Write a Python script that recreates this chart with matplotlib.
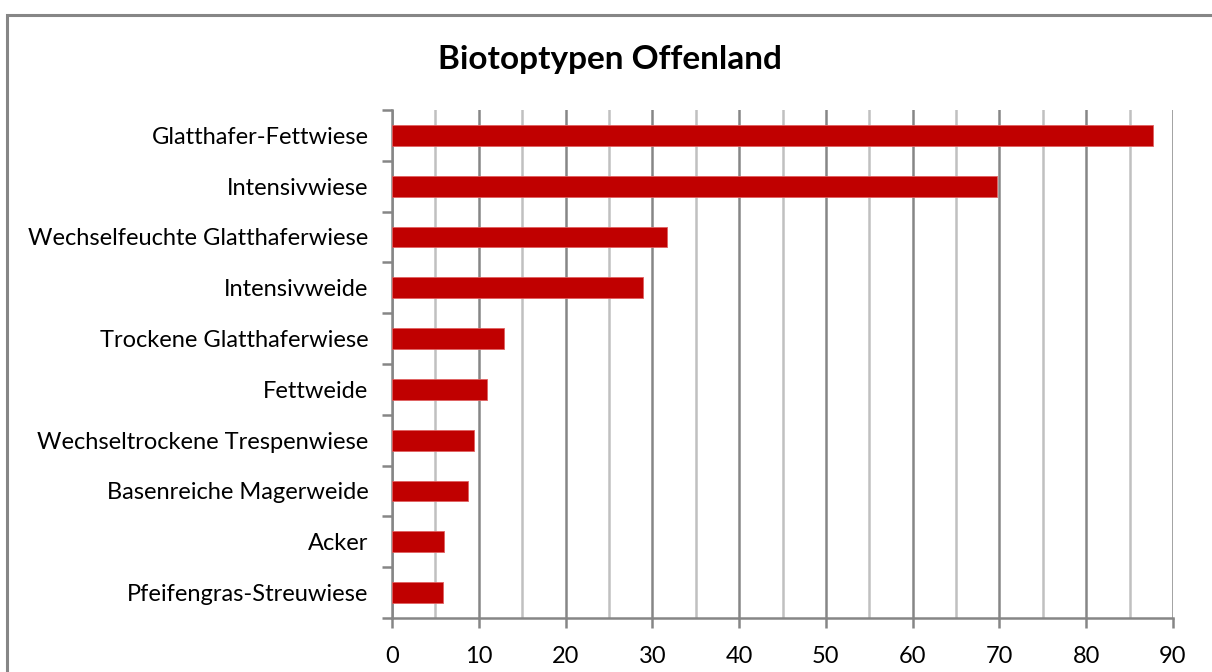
import matplotlib.pyplot as plt
from matplotlib.patches import Rectangle

plt.rcParams['font.family'] = ['Lato', 'DejaVu Sans']

# Data (top to bottom)
categories = ['Glatthafer-Fettwiese', 'Intensivwiese', 'Wechselfeuchte Glatthaferwiese',
              'Intensivweide', 'Trockene Glatthaferwiese', 'Fettweide',
              'Wechseltrockene Trespenwiese', 'Basenreiche Magerweide', 'Acker',
              'Pfeifengras-Streuwiese']
values = [87.7, 69.7, 31.7, 28.9, 12.9, 10.9, 9.5, 8.8, 6.0, 5.9]
x_ticks = list(range(0, 91, 10))

W, H = 1212, 672
fig = plt.figure(figsize=(W / 100, H / 100), dpi=100)

# chart area border
fig.patches.append(Rectangle((7 / W, -0.1), 1.2, 1 - 15 / H + 0.1, transform=fig.transFigure,
                             fill=False, edgecolor='#868686', linewidth=2.2, zorder=0))

ax = fig.add_axes([392 / W, 1 - 618 / H, (1173 - 392) / W, (618 - 110) / H])

n = len(categories)
ypos = list(range(n))[::-1]
ax.barh(ypos, values, height=0.41, color='#c00000', edgecolor='#e06060', linewidth=0.6, zorder=3)

ax.set_xlim(0, 90)
ax.set_ylim(-0.5, n - 0.5)
ax.set_xticks(x_ticks)
ax.set_xticks(range(5, 90, 10), minor=True)
ax.set_yticks([y - 0.5 for y in range(n + 1)])
ax.set_yticklabels([])
ax.set_yticks(ypos, minor=True)
ax.set_yticklabels(categories, minor=True)

ax.grid(axis='x', which='major', color='#868686', linewidth=1.8, zorder=1)
ax.grid(axis='x', which='minor', color='#c0c0c0', linewidth=1.8, zorder=1)

for s in ['top', 'right']:
    ax.spines[s].set_visible(False)
for s in ['left', 'bottom']:
    ax.spines[s].set_color('#868686')
    ax.spines[s].set_linewidth(1.8)

ax.tick_params(axis='x', which='major', direction='out', length=7, width=1.8, color='#868686',
               labelsize=17, labelcolor='#000000', pad=13)
ax.tick_params(axis='x', which='minor', length=0)
ax.tick_params(axis='y', which='major', direction='out', length=7, width=1.8, color='#868686')
ax.tick_params(axis='y', which='minor', length=0, labelsize=17, labelcolor='#000000', pad=17)

fig.text(610 / W, 1 - 60 / H, 'Biotoptypen Offenland', ha='center', va='center',
         fontsize=24, fontweight='bold')

fig.savefig('out.png', dpi=100)
